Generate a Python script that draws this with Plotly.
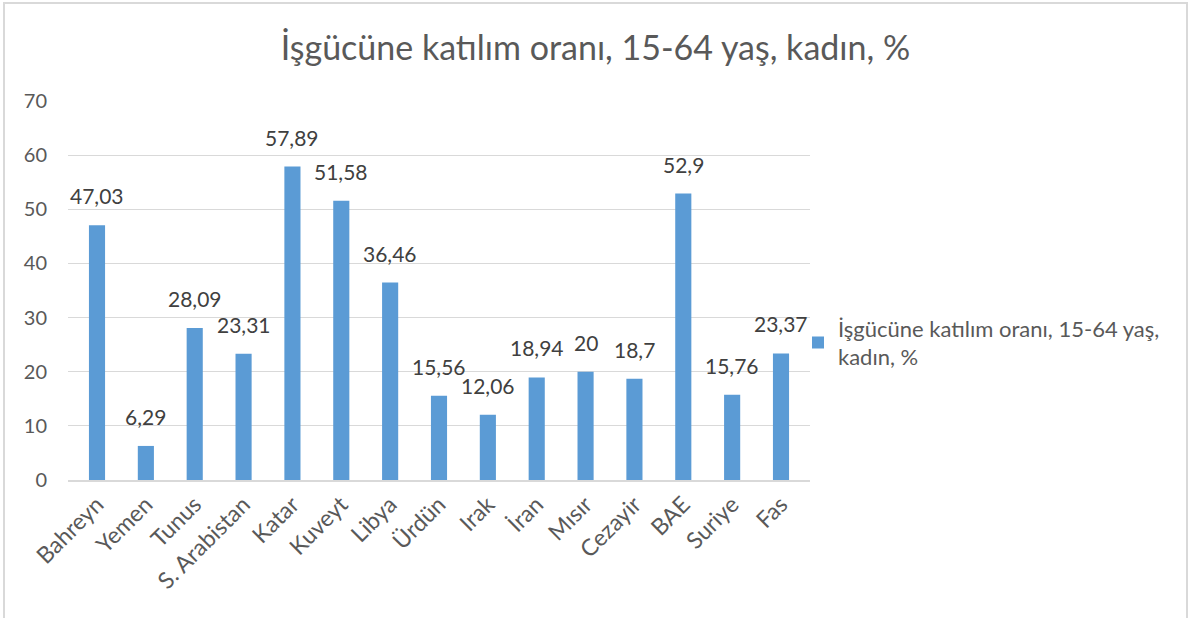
import plotly.graph_objects as go

categories = ["Bahreyn", "Yemen", "Tunus", "S. Arabistan", "Katar", "Kuveyt", "Libya",
              "Ürdün", "Irak", "İran", "Mısır", "Cezayir", "BAE", "Suriye", "Fas"]
values = [47.03, 6.29, 28.09, 23.31, 57.89, 51.58, 36.46, 15.56, 12.06, 18.94, 20, 18.7, 52.9, 15.76, 23.37]
labels = [f"{v:g}".replace(".", ",") for v in values]
series_name = "İşgücüne katılım oranı, 15-64 yaş,<br>kadın, %"
title_text = "İşgücüne katılım oranı, 15-64 yaş, kadın, %"

FONT = "Lato"
GRAY = "#595959"

fig = go.Figure()
fig.add_trace(go.Bar(
    x=categories, y=values, name=series_name,
    marker=dict(color="#5B9BD5", line=dict(width=0)),
    showlegend=True,
))

for c, v, t in zip(categories, values, labels):
    fig.add_annotation(x=c, y=v, text=t, showarrow=False, xanchor="center", yanchor="bottom",
                       yshift=15, font=dict(family=FONT, size=21, color="#404040"))

L, R, T, B = 68, 810, 101, 480
W, H = 1191, 618
pw, ph = R - L, B - T

def px(x):
    return (x - L) / pw

def py(y):
    return (B - y) / ph

fig.update_layout(
    width=W, height=H,
    margin=dict(l=L, r=W - R, t=T, b=H - B, autoexpand=False),
    paper_bgcolor="white", plot_bgcolor="white",
    font=dict(family=FONT, color=GRAY, size=20),
    bargap=0.67,
    title=dict(text=title_text, x=0.5, xanchor="center", y=1 - 48 / H, yanchor="middle",
               font=dict(family=FONT, size=34, color=GRAY)),
    showlegend=True,
    legend=dict(x=px(798), xanchor="left", y=py(343), yanchor="middle",
                font=dict(family=FONT, size=22, color=GRAY), itemwidth=30,
                bgcolor="rgba(0,0,0,0)", tracegroupgap=0),
    xaxis=dict(tickangle=-45, showline=True, linecolor="#d9d9d9", linewidth=2,
               ticks="", tickfont=dict(family=FONT, size=23, color=GRAY), fixedrange=True),
    yaxis=dict(range=[0, 70], dtick=10, showgrid=True, gridcolor="#d9d9d9", gridwidth=1,
               zeroline=False, showline=False, ticks="", ticklabelstandoff=20,
               tickfont=dict(family=FONT, size=20, color=GRAY)),
    shapes=[dict(type="rect", xref="paper", yref="paper",
                 x0=px(4), x1=px(1187), y0=py(625), y1=py(3),
                 line=dict(color="#d9d9d9", width=2), fillcolor="rgba(0,0,0,0)", layer="below")],
)

fig.write_html("out.html", post_script="document.body.style.margin='0';",
               config={"displayModeBar": False})
